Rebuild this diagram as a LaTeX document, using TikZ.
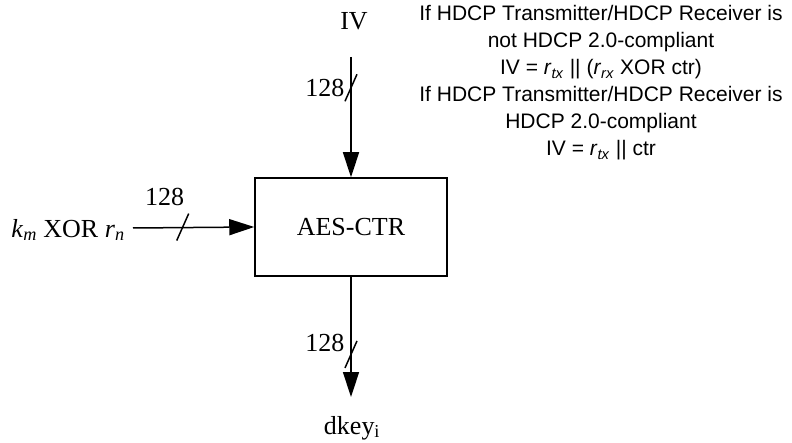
\documentclass[tikz,border=0pt]{standalone}
\usepackage{fontspec}
\setmainfont{Liberation Serif}
\newfontfamily\arialfont{Liberation Sans}
\usepackage{tikz}
\usetikzlibrary{arrows.meta}
\usetikzlibrary{calc}

\begin{document}
\begin{tikzpicture}[x=1pt,y=-1pt,line width=1.5pt,
    bus/.style={-{Triangle[length=25pt,width=16pt]}},
    serif lbl/.style={font=\fontsize{26}{30}\selectfont,inner sep=0pt},
    bus width/.style={font=\fontsize{26}{30}\selectfont,inner sep=0pt}]
          \useasboundingbox (0,0) rectangle (792,443);
          \node[draw,minimum width=192pt,minimum height=98pt,serif lbl] (aes) at (351,227) {AES-CTR};
          % inputs and output
          \node[serif lbl] (iv) at (354,21) {IV};
          \coordinate (ivin) at (351,57);
          \node[serif lbl] (key) at (68,230) {\textit{k}\textsubscript{\textit{m}} XOR \textit{r}\textsubscript{\textit{n}}};
          \coordinate (keyin) at (133,228);
          \coordinate (dout) at (351,397);
          \node[serif lbl] (dkey) at (352,428) {dkey\textsubscript{i}};
          \draw[bus] (ivin) -- coordinate[pos=0.26] (s1) (aes.north);
          \draw[bus] (keyin) -- coordinate[pos=0.41] (s2) (aes.west);
          \draw[bus] (aes.south) -- coordinate[pos=0.65] (s3) (dout);
          % width marks
          \draw (s1) ++(-6,13) -- ++(12,-27);
          \draw (s2) ++(-6,13) -- ++(12,-27);
          \draw (s3) ++(-6,13) -- ++(12,-27);
          \node[bus width,anchor=east] (w1) at ($(s1)+(-6,0)$) {128};
          \node[bus width] (w2) at ($(s2)+(-18,-31)$) {128};
          \node[bus width,anchor=east] (w3) at ($(s3)+(-6,-12)$) {128};
          % note on IV
          \node[anchor=north,align=center,inner sep=0pt,
                font=\arialfont\fontsize{21}{27}\selectfont] (note) at (601,5)
            {If HDCP Transmitter/HDCP Receiver is\\
             not HDCP 2.0-compliant\\
             IV = \textit{r}\textsubscript{\textit{tx}} || (\textit{r}\textsubscript{\textit{rx}} XOR ctr)\\
             If HDCP Transmitter/HDCP Receiver is\\
             HDCP 2.0-compliant\\
             IV = \textit{r}\textsubscript{\textit{tx}} || ctr};
        \end{tikzpicture}
\end{document}
